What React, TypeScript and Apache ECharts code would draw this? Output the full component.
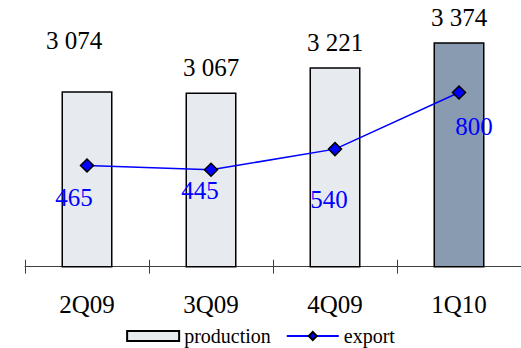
import React, { useEffect, useRef } from "react";
import * as echarts from "echarts";

const categories = ["2Q09", "3Q09", "4Q09", "1Q10"];
const production = [3074, 3067, 3221, 3374];
const exportVals = [465, 445, 540, 800];
const barColors = ["#e7eaef", "#e7eaef", "#e7eaef", "#889bb1"];
const barLabelOffsets: [number, number][] = [[-13, -26], [0, 0], [0, 0], [0, 0]];
const lineLabelOffsets: [number, number][] = [[-13, 12], [-11, 1], [-6, 31], [15, 14]];

const FONT = "Liberation Serif";

function fmt(v: number) {
  return String(v).replace(/\B(?=(\d{3})+(?!\d))/g, " ");
}

export default function App() {
  const ref = useRef<HTMLDivElement>(null);
  useEffect(() => {
    if (!ref.current) return;
    const chart = echarts.init(ref.current, null, { renderer: "svg" });
    const barLabel = {
      show: true,
      position: "top",
      distance: 12,
      fontFamily: FONT,
      fontSize: 25,
      color: "#000",
      formatter: (p: any) => "{t|" + fmt(p.value) + "}",
      rich: { t: { fontFamily: FONT, fontSize: 25, color: "#000" } },
    };
    const lineLabel = {
      show: true,
      position: "bottom",
      distance: 0,
      fontFamily: FONT,
      fontSize: 25,
      color: "#0000ff",
      formatter: (p: any) => "{t|" + p.value + "}",
      rich: { t: { fontFamily: FONT, fontSize: 25, color: "#0000ff" } },
    };
    chart.setOption({
      animation: false,
      backgroundColor: "#ffffff",
      textStyle: { fontFamily: FONT },
      grid: { left: 25, top: 5.4, width: 506.7, height: 261.3, containLabel: false },
      legend: {
        top: 321,
        left: "center",
        itemWidth: 52,
        itemHeight: 10,
        itemGap: 15,
        textStyle: { fontFamily: FONT, fontSize: 20, color: "#000" },
        data: [{ name: "production", icon: "rect" }, { name: "export" }],
      },
      xAxis: [
        {
          type: "category",
          data: categories,
          axisLine: { lineStyle: { color: "#404040", width: 1 } },
          axisTick: { show: true, length: 7, lineStyle: { color: "#404040" } },
          axisLabel: { fontFamily: FONT, fontSize: 25, color: "#000", margin: 25 },
        },
        {
          type: "category",
          data: categories,
          position: "bottom",
          axisLine: { show: false },
          axisTick: { show: true, inside: true, length: 7, lineStyle: { color: "#404040" } },
          axisLabel: { show: false },
        },
      ],
      yAxis: [
        { type: "value", min: 2000, max: 3600, show: false, splitLine: { show: false } },
        { type: "value", min: 0, max: 1200, show: false, splitLine: { show: false } },
      ],
      series: [
        {
          name: "production",
          type: "bar",
          barWidth: 51,
          xAxisIndex: 0,
          yAxisIndex: 0,
          itemStyle: { color: barColors[0], borderColor: "#000", borderWidth: 1.5 },
          data: production.map((v, i) => ({
            value: v,
            itemStyle: { color: barColors[i], borderColor: "#000", borderWidth: 1.5 },
            label: { ...barLabel, offset: barLabelOffsets[i] },
          })),
          label: barLabel,
        },
        {
          name: "export",
          type: "line",
          xAxisIndex: 0,
          yAxisIndex: 1,
          symbol: "diamond",
          symbolSize: 13,
          lineStyle: { color: "#0000ff", width: 1.5 },
          itemStyle: { color: "#0000ff", borderColor: "#000", borderWidth: 1.5 },
          data: exportVals.map((v, i) => ({
            value: v,
            label: { ...lineLabel, offset: lineLabelOffsets[i] },
          })),
          label: lineLabel,
        },
      ],
    });
    return () => chart.dispose();
  }, []);
  return (
    <div
      ref={ref}
      style={{ position: "fixed", left: 0, top: 0, width: 521, height: 348 }}
    />
  );
}
